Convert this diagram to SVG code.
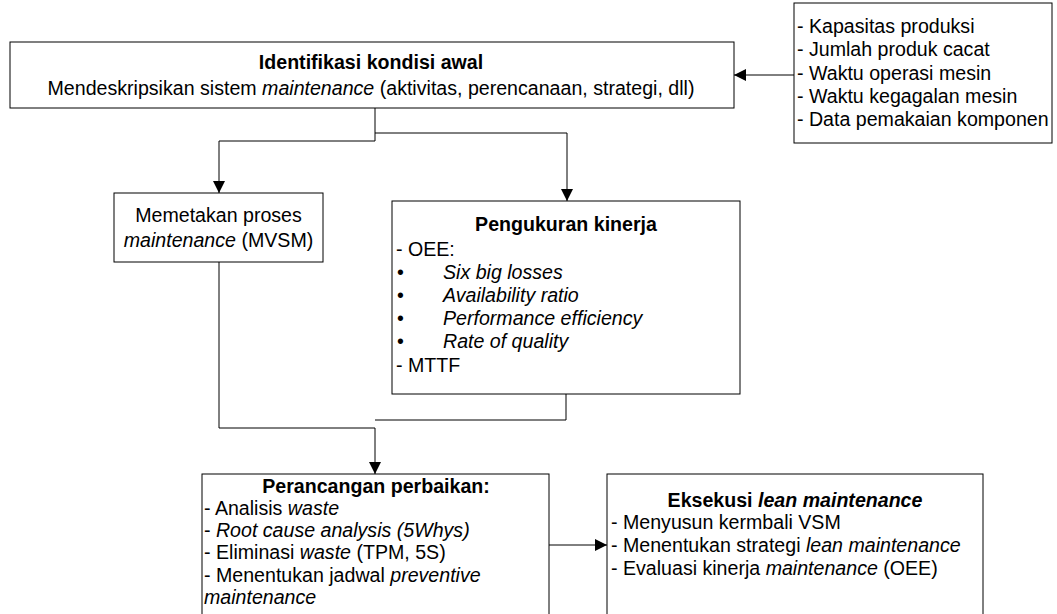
<svg xmlns="http://www.w3.org/2000/svg" width="1057" height="614" viewBox="0 0 1057 614">
<defs>
<style>
.box{fill:#fff;stroke:#000;stroke-width:1}
text{font-family:"Liberation Sans",Arial,sans-serif;font-size:19.6px;fill:#000}
.b{font-weight:bold}
.i{font-style:italic}
.m{text-anchor:middle}
.c{fill:none;stroke:#000;stroke-width:1}
</style>
<marker id="ah" markerUnits="userSpaceOnUse" markerWidth="12" markerHeight="12" refX="12" refY="6" orient="auto">
<path d="M0,0 L12,6 L0,12 z" fill="#000"/>
</marker>
</defs>
<rect width="1057" height="614" fill="#fff"/>
<g id="connectors">
<path class="c" d="M794,75 H734" marker-end="url(#ah)"/>
<path class="c" d="M375,108 V141 H219 V193" marker-end="url(#ah)"/>
<path class="c" d="M375,133 H567 V201" marker-end="url(#ah)"/>
<path class="c" d="M219,262 V428 H375 V474" marker-end="url(#ah)"/>
<path class="c" d="M566,394 V420 H375"/>
<path class="c" d="M549,545 H607" marker-end="url(#ah)"/>
</g>
<g id="identifikasi">
<rect class="box" x="10" y="42" width="724" height="66"/>
<text class="b m" x="371" y="69">Identifikasi kondisi awal</text>
<text class="m" x="371" y="95">Mendeskripsikan sistem <tspan class="i">maintenance</tspan> (aktivitas, perencanaan, strategi, dll)</text>
</g>
<g id="data">
<rect class="box" x="794" y="3" width="258" height="140"/>
<text x="797" y="33">- Kapasitas produksi</text>
<text x="797" y="56">- Jumlah produk cacat</text>
<text x="797" y="80">- Waktu operasi mesin</text>
<text x="797" y="103">- Waktu kegagalan mesin</text>
<text x="797" y="126">- Data pemakaian komponen</text>
</g>
<g id="memetakan">
<rect class="box" x="114" y="193" width="209" height="69"/>
<text class="m" x="218.5" y="222">Memetakan proses</text>
<text class="m" x="218.5" y="247"><tspan class="i">maintenance</tspan> (MVSM)</text>
</g>
<g id="pengukuran">
<rect class="box" x="392" y="201" width="348" height="193"/>
<text class="b m" x="566" y="231">Pengukuran kinerja</text>
<text x="396" y="256">- OEE:</text>
<text x="397" y="279">•</text><text class="i" x="443" y="279">Six big losses</text>
<text x="397" y="302">•</text><text class="i" x="443" y="302">Availability ratio</text>
<text x="397" y="325">•</text><text class="i" x="443" y="325">Performance efficiency</text>
<text x="397" y="348">•</text><text class="i" x="443" y="348">Rate of quality</text>
<text x="396" y="372">- MTTF</text>
</g>
<g id="perancangan">
<rect class="box" x="202" y="474" width="347" height="160"/>
<text class="b m" x="376" y="493">Perancangan perbaikan:</text>
<text x="204" y="515">- Analisis <tspan class="i">waste</tspan></text>
<text x="204" y="537">- <tspan class="i">Root cause analysis (5Whys)</tspan></text>
<text x="204" y="559">- Eliminasi <tspan class="i">waste</tspan> (TPM, 5S)</text>
<text x="204" y="582">- Menentukan jadwal <tspan class="i">preventive</tspan></text>
<text class="i" x="204" y="604">maintenance</text>
</g>
<g id="eksekusi">
<rect class="box" x="607" y="474" width="376" height="160"/>
<text class="b m" x="795" y="507">Eksekusi <tspan class="i">lean maintenance</tspan></text>
<text x="611" y="529">- Menyusun kermbali VSM</text>
<text x="611" y="552">- Menentukan strategi <tspan class="i">lean maintenance</tspan></text>
<text x="611" y="575">- Evaluasi kinerja <tspan class="i">maintenance</tspan> (OEE)</text>
</g>
</svg>
